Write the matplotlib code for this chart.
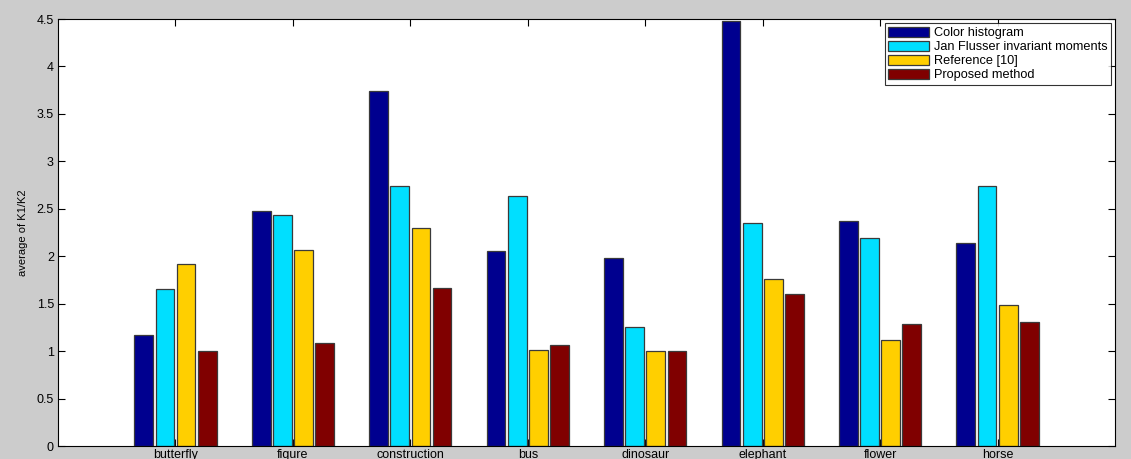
import matplotlib
matplotlib.use('Agg')
import numpy as np
import matplotlib.pyplot as plt

# ── Data ─────────────────────────────────────────────────────────────────────
categories = ['butterfly', 'figure', 'construction', 'bus',
              'dinosaur', 'elephant', 'flower', 'horse']
color_hist = [1.17, 2.48, 3.74, 2.05, 1.98, 4.48, 2.37, 2.14]
flusser    = [1.65, 2.43, 2.74, 2.63, 1.25, 2.35, 2.19, 2.74]
ref10      = [1.92, 2.07, 2.30, 1.01, 1.00, 1.76, 1.12, 1.49]
proposed   = [1.00, 1.09, 1.67, 1.06, 1.00, 1.60, 1.29, 1.31]
series_names = ['Color histogram', 'Jan Flusser invariant moments',
                'Reference [10]', 'Proposed method']

plt.rcParams['font.family'] = ['Liberation Sans', 'DejaVu Sans']

fig = plt.figure(figsize=(11.31, 4.59), dpi=100, facecolor='#cccccc')
ax = fig.add_axes([0.0513, 0.0283, 0.9346, 0.9303])
ax.set_facecolor('white')

x = np.arange(1, len(categories) + 1)
colors = ['#00008f', '#00dfff', '#ffcf00', '#800000']
offsets = [-0.27, -0.09, 0.09, 0.27]
width = 0.16
for vals, off, c, name in zip([color_hist, flusser, ref10, proposed],
                              offsets, colors, series_names):
    ax.bar(x + off, vals, width, color=c, edgecolor='#3a3a3a',
           linewidth=0.9, label=name, zorder=2)

ax.set_xlim(0, 9)
ax.set_ylim(0, 4.5)
ax.set_xticks(x)
ax.set_xticklabels(categories, fontsize=9)
ax.set_yticks(np.arange(0, 4.51, 0.5))
ax.set_yticklabels(['0', '0.5', '1', '1.5', '2', '2.5', '3', '3.5', '4', '4.5'],
                   fontsize=9)
ax.tick_params(direction='in', top=True, right=True, length=5, width=0.8,
               pad=3, colors='black')
ax.tick_params(axis='x', pad=2)
for s in ax.spines.values():
    s.set_linewidth(0.8)
ax.set_ylabel('average of K1/K2', fontsize=8, labelpad=6)

leg = ax.legend(loc='upper right', fontsize=9.2, frameon=True, fancybox=False,
                edgecolor='black', borderpad=0.25, labelspacing=0.12,
                handlelength=3.2, handleheight=0.85, handletextpad=0.4,
                borderaxespad=0.35)
leg.get_frame().set_linewidth(0.8)

plt.savefig('out.png', dpi=100, facecolor=fig.get_facecolor())
plt.close()
